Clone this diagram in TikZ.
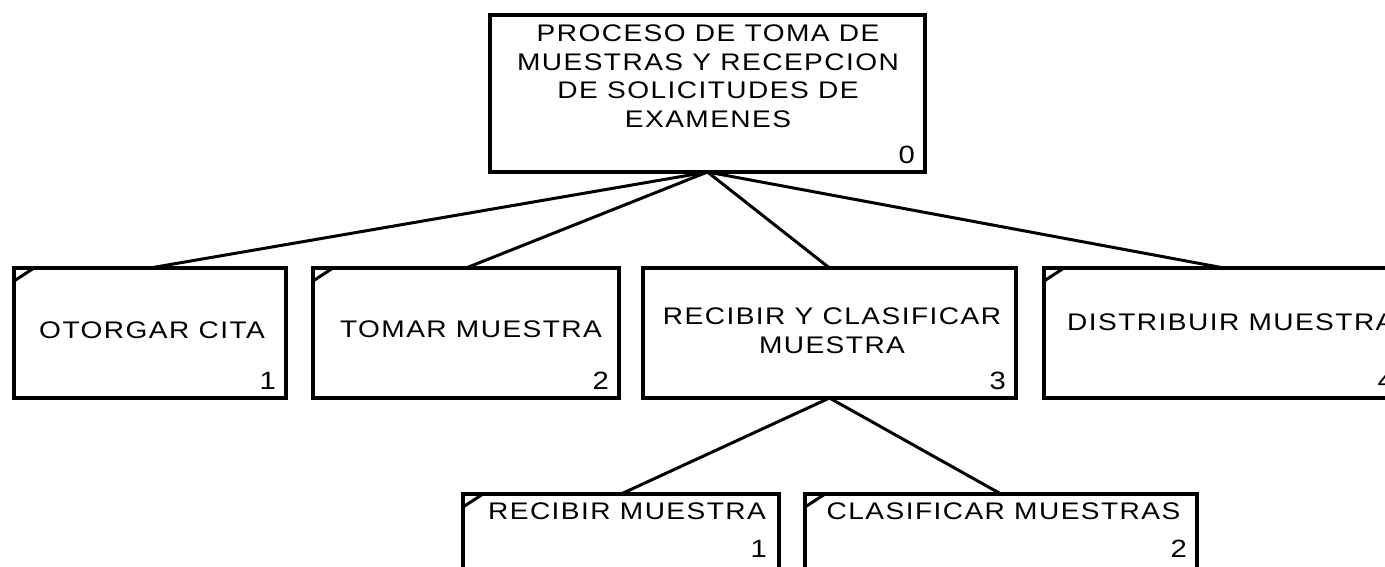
\documentclass[tikz,border=0pt]{standalone}
\usepackage{fontspec}
\setmainfont{Liberation Sans}[FakeStretch=1.17, LetterSpace=6]
\begin{document}
\begin{tikzpicture}[x=1pt,y=-1pt,
  box/.style n args={2}{draw, line width=3.8pt, rectangle, inner sep=0pt, outer sep=0pt,
    minimum width=#1, minimum height=#2},
  conn/.style={line width=3pt},
  cornermark/.style={line width=3pt},
  lbl/.style={inner sep=0pt, font=\fontsize{24}{28.5}\selectfont, align=center},
  num/.style={inner sep=0pt, font=\fontsize{25}{28}\selectfont, anchor=base east}]
\useasboundingbox (0,0) rectangle (1385,566);
\fill[white] (0,0) rectangle (1385,566);
\clip (0,0) rectangle (1385,566);

% boxes
\node[box={435pt}{157pt}] (top) at (707.5,93.5) {};
\node[box={272pt}{130pt}] (b1) at (150,333) {};
\node[box={306pt}{130pt}] (b2) at (466,333) {};
\node[box={373pt}{130pt}] (b3) at (829.5,333) {};
\node[box={360pt}{130pt}] (b4) at (1224,333) {};
\node[box={316pt}{75pt}] (c1) at (621,531.5) {};
\node[box={392pt}{75pt}] (c2) at (1001,531.5) {};

% connectors
\draw[conn] (top.south) -- (b1.north);
\draw[conn] (top.south) -- (b2.north);
\draw[conn] (top.south) -- (b3.north);
\draw[conn] (top.south) -- (b4.north);
\draw[conn] (b3.south) -- (c1.north);
\draw[conn] (b3.south) -- (c2.north);

% corner marks
\foreach \b in {b1,b2,b4,c1,c2}{
  \draw[cornermark] ([yshift=-13pt]\b.north west) -- ([xshift=20pt]\b.north west);
}

% labels
\node[lbl, anchor=north] (t0) at (708,25) {PROCESO DE TOMA DE\\MUESTRAS Y RECEPCION\\DE SOLICITUDES DE\\EXAMENES};
\node[lbl] (t1) at (152,330) {OTORGAR CITA};
\node[lbl] (t2) at (471,329) {TOMAR MUESTRA};
\node[lbl] (t3) at (832,330.5) {RECIBIR Y CLASIFICAR\\MUESTRA};
\node[lbl, anchor=west] (t4) at (1067,322) {DISTRIBUIR MUESTRA};
\node[lbl] (t31) at (627,511.5) {RECIBIR MUESTRA};
\node[lbl] (t32) at (1003.5,511) {CLASIFICAR MUESTRAS};

% numbers
\node[num] (n0) at ([xshift=-10pt,yshift=9pt]top.south east) {0};
\node[num] (n1) at ([xshift=-10pt,yshift=9pt]b1.south east) {1};
\node[num] (n2) at ([xshift=-10pt,yshift=9pt]b2.south east) {2};
\node[num] (n3) at ([xshift=-10pt,yshift=9pt]b3.south east) {3};
\node[num] (n4) at ([xshift=-10pt,yshift=9pt]b4.south east) {4};
\node[num] (n31) at ([xshift=-12pt,yshift=12pt]c1.south east) {1};
\node[num] (n32) at ([xshift=-10pt,yshift=12pt]c2.south east) {2};
\end{tikzpicture}
\end{document}
